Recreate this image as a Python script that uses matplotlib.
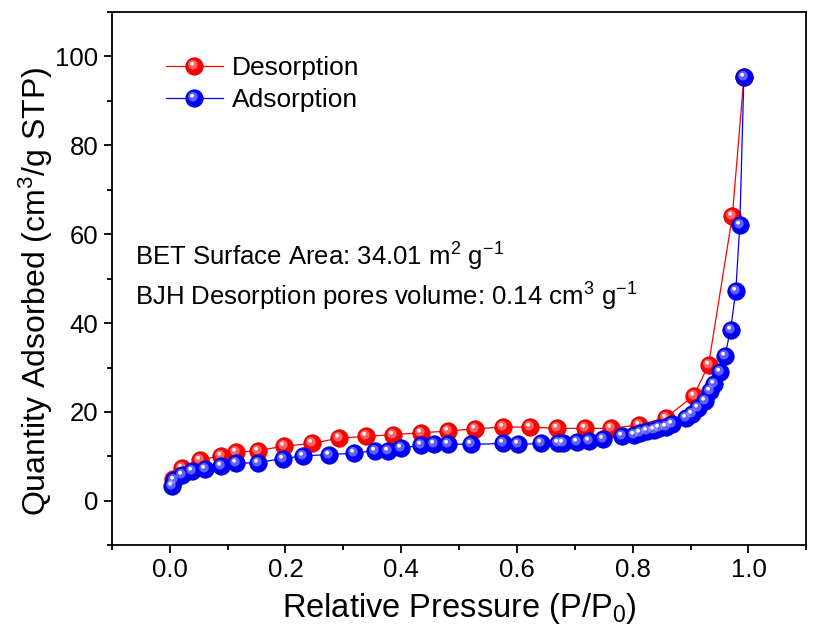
import numpy as np
import matplotlib; matplotlib.use('Agg')
import matplotlib.pyplot as plt
from matplotlib.markers import MarkerStyle
from matplotlib.transforms import Affine2D
from matplotlib.legend_handler import HandlerTuple

plt.rcParams['font.family'] = ['Liberation Sans', 'DejaVu Sans']
plt.rcParams['mathtext.fontset'] = 'custom'
plt.rcParams['mathtext.rm'] = 'Liberation Sans'
plt.rcParams['mathtext.it'] = 'Liberation Sans:italic'

# desorption branch (red)
des_p = [0.005, 0.021, 0.052, 0.088, 0.115, 0.152, 0.198, 0.246, 0.292, 0.340, 0.386, 0.434, 0.481,
         0.528, 0.576, 0.622, 0.669, 0.717, 0.763, 0.811, 0.857, 0.905, 0.931, 0.972, 0.992]
des_q = [5.0, 7.4, 9.2, 10.1, 10.9, 11.3, 12.3, 12.9, 14.1, 14.5, 14.9, 15.3, 15.7,
         16.2, 16.6, 16.6, 16.3, 16.3, 16.3, 17.1, 18.7, 23.6, 30.6, 64.0, 95.3]
# adsorption branch (blue)
ads_p = [0.004, 0.008, 0.021, 0.038, 0.061, 0.088, 0.115, 0.152, 0.195, 0.230, 0.275, 0.319, 0.354,
         0.378, 0.400, 0.435, 0.457, 0.480, 0.521, 0.576, 0.602, 0.642, 0.671, 0.680, 0.703, 0.725,
         0.748, 0.781, 0.802, 0.813, 0.825, 0.836, 0.846, 0.858, 0.868, 0.892, 0.902, 0.913, 0.925,
         0.934, 0.940, 0.950, 0.959, 0.969, 0.978, 0.985, 0.992]
ads_q = [3.4, 4.6, 5.8, 6.6, 7.2, 7.8, 8.4, 8.6, 9.5, 10.1, 10.4, 10.7, 11.3,
         11.3, 11.9, 12.5, 12.7, 12.8, 12.7, 12.9, 12.7, 12.9, 13.1, 13.1, 13.3, 13.5,
         13.9, 14.5, 14.9, 15.3, 15.7, 15.9, 16.3, 16.7, 17.3, 18.7, 19.6, 20.9, 22.5,
         24.8, 26.4, 28.9, 32.5, 38.5, 47.2, 62.1, 95.3]

MS = 12.5
# glossy sphere look: coloured ball + lighter patch + white spot, offset up-left
hl1 = MarkerStyle('o', transform=Affine2D().scale(0.55).translate(-0.09, 0.1))
hl2 = MarkerStyle('o', transform=Affine2D().scale(0.22).translate(-0.14, 0.16))

def sphere(ax, x, y, color, light, edge, z):
    ln, = ax.plot(x, y, '-', color=color, lw=0.9, marker='o', ms=MS, mfc=color, mec=edge, mew=0.6, zorder=z)
    h1, = ax.plot(x, y, ls='none', marker=hl1, ms=MS, mfc=light, mec='none', alpha=0.55, zorder=z)
    h2, = ax.plot(x, y, ls='none', marker=hl2, ms=MS, mfc='white', mec='none', zorder=z)
    return (ln, h1, h2)

fig = plt.figure(figsize=(8.22, 6.34), dpi=100)
ax = fig.add_axes([0.136, 0.140, 0.845, 0.841])
hd = sphere(ax, des_p, des_q, '#ff0000', '#ffb0b0', '#d00000', 3)
ha = sphere(ax, ads_p, ads_q, '#0000ff', '#b0b0ff', '#0000c0', 4)

ax.set_xlim(-0.1, 1.1)
ax.set_ylim(-10, 110)
ax.set_xticks([0.0, 0.2, 0.4, 0.6, 0.8, 1.0])
ax.set_xticks(np.arange(-0.1, 1.11, 0.1), minor=True)
ax.set_yticks([0, 20, 40, 60, 80, 100])
ax.set_yticks(np.arange(-10, 111, 10), minor=True)
ax.tick_params(which='both', direction='out', width=1.3, labelsize=18.5, top=False, right=False)
ax.tick_params(which='major', length=6)
ax.tick_params(which='minor', length=3.5)
for s in ax.spines.values():
    s.set_linewidth(1.3)

ax.set_xlabel('Relative Pressure (P/P$_0$)', fontsize=23.5, labelpad=6)
ax.set_ylabel('Quantity Adsorbed (cm$^3$/g STP)', fontsize=23)
ax.yaxis.set_label_coords(-0.082, 0.477)

ax.text(-0.06, 55.0, 'BET Surface Area: 34.01 m$^2$ g$^{-1}$', fontsize=18.5, va='center')
ax.text(-0.06, 46.0, 'BJH Desorption pores volume: 0.14 cm$^3$ g$^{-1}$', fontsize=18.5, va='center')

ax.legend([hd, ha], ['Desorption', 'Adsorption'], handler_map={tuple: HandlerTuple(ndivide=1, pad=0)},
          loc='upper left', bbox_to_anchor=(0.078, 0.917), frameon=False, fontsize=19,
          handlelength=2.16, handletextpad=0.35, labelspacing=0.29, borderaxespad=0, borderpad=0)

fig.savefig('out.png', dpi=100)
